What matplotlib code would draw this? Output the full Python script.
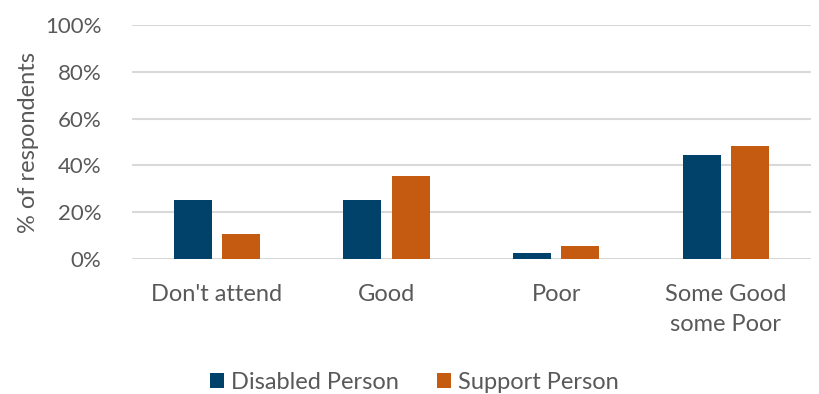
import numpy as np
import matplotlib.pyplot as plt
from matplotlib.ticker import PercentFormatter

plt.rcParams['font.family'] = ['Lato', 'DejaVu Sans']

categories = ["Don't attend", 'Good', 'Poor', 'Some Good\nsome Poor']
disabled = [25.0, 25.0, 2.7, 44.4]
support = [10.6, 35.6, 5.3, 48.3]

navy = '#00426A'
orange = '#C55A11'
grey_text = '#595959'
grid_col = '#D9D9D9'

fig = plt.figure(figsize=(8.19, 3.94), dpi=100)
ax = fig.add_axes([0.161, 0.343, 0.829, 0.593])

x = np.arange(len(categories))
w = 0.224
ax.bar(x - 0.142, disabled, w, color=navy, label='Disabled Person', zorder=3)
ax.bar(x + 0.142, support, w, color=orange, label='Support Person', zorder=3)

ax.set_xlim(-0.5, len(categories) - 0.5)
ax.set_ylim(0, 100)
ax.set_yticks(np.arange(0, 101, 20))
ax.yaxis.set_major_formatter(PercentFormatter(decimals=0))
ax.grid(axis='y', color=grid_col, linewidth=1.5, zorder=0)
for s in ax.spines.values():
    s.set_visible(False)
ax.tick_params(axis='both', length=0, labelsize=17, colors=grey_text)
ax.tick_params(axis='y', pad=22, labelsize=16)
ax.tick_params(axis='x', pad=18)
ax.set_xticks(x)
ax.set_xticklabels(categories, linespacing=1.55)
ax.set_ylabel('% of respondents', fontsize=17, color=grey_text, labelpad=4)

fig.legend(*ax.get_legend_handles_labels(), loc='center', bbox_to_anchor=(0.506, 0.03),
           ncol=2, frameon=False, fontsize=17, labelcolor=grey_text,
           handlelength=0.6, handleheight=0.6, handletextpad=0.3, columnspacing=1.6)

fig.savefig('out.png', dpi=100)
